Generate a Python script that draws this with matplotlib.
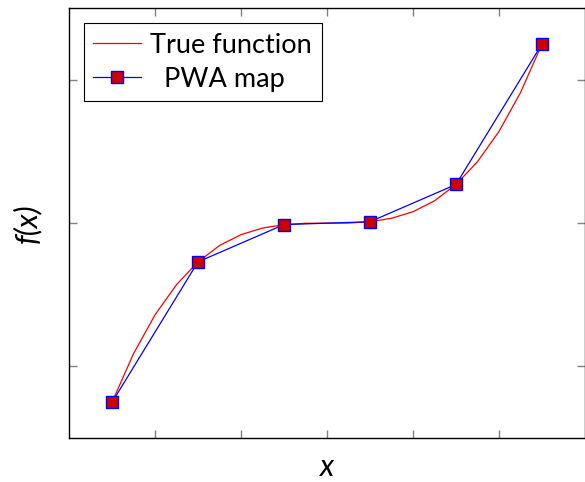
import numpy as np
import matplotlib.pyplot as plt

plt.rcParams['font.family'] = ['Lato', 'DejaVu Sans']

# True function samples
true_x = [-2.5, -2.25, -2.0, -1.75, -1.5, -1.25, -1.0, -0.75, -0.5, -0.25, 0.0,
          0.25, 0.5, 0.75, 1.0, 1.25, 1.5, 1.75, 2.0, 2.25, 2.5]
true_y = [-12.5, -9.11, -6.4, -4.29, -2.7, -1.56, -0.8, -0.34, -0.1, -0.01, 0.0,
          0.01, 0.1, 0.34, 0.8, 1.56, 2.7, 4.29, 6.4, 9.11, 12.5]

# PWA map breakpoints
pwa_x = [-2.5, -1.5, -0.5, 0.5, 1.5, 2.5]
pwa_y = [-12.5, -2.7, -0.1, 0.1, 2.7, 12.5]

fig = plt.figure(figsize=(5.85, 4.82), dpi=100)
ax = fig.add_axes([0.118, 0.091, 0.882, 0.892])

ax.plot(true_x, true_y, color="red", lw=0.9, label="True function")
ax.plot(pwa_x, pwa_y, color="blue", lw=0.9, marker="s", markersize=8,
        markerfacecolor="#cc0000", markeredgecolor="blue", markeredgewidth=1.0,
        label="  PWA map")

ax.set_xlim(-3, 3)
ax.set_ylim(-15, 15)
ax.set_xticks([-2, -1, 0, 1, 2])
ax.set_yticks([-10, 0, 10])
ax.tick_params(direction="in", length=6, width=1, color="gray",
               top=True, right=True, labelbottom=False, labelleft=False)
for s in ax.spines.values():
    s.set_linewidth(1.0)

ax.set_xlabel("x", fontsize=22, style="italic", labelpad=11)
ax.set_ylabel("f(x)", fontsize=22, style="italic", labelpad=20)

leg = ax.legend(loc="upper left", fontsize=19.5, fancybox=False, framealpha=1,
                edgecolor="black", borderpad=0.35, handlelength=1.75,
                handletextpad=0.35, labelspacing=0.33, borderaxespad=0.55)
leg.get_frame().set_linewidth(0.8)

fig.savefig("out.png", dpi=100)
